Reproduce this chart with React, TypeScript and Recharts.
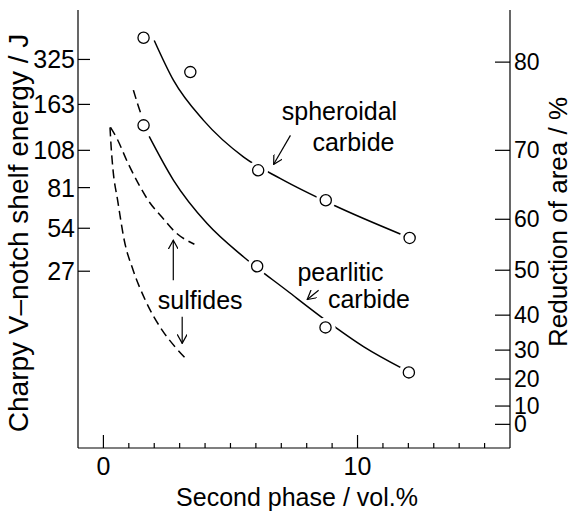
import React from 'react';
import { ComposedChart, Line, Scatter, XAxis, YAxis, ReferenceLine, ReferenceDot } from 'recharts';

const FONT = '"Liberation Sans", Arial, Helvetica, sans-serif';

// x axis (Second phase / vol.%)
const xTicks = [0, 1, 2, 3, 4, 5, 6, 7, 8, 9, 10, 11, 12, 13, 14, 15];
const xMajorTicks = [0, 10];

// y positions are in plot units (0 = bottom of frame, 100 = top of frame)
const leftTickPos = [88.71, 78.45, 67.96, 59.45, 50.17, 40.36];
const leftTickLabels = ['325', '163', '108', '81', '54', '27'];
const rightTickPos = [88.1, 67.96, 52.22, 40.59, 30.33, 22.35, 15.74, 9.58, 5.4];
const rightTickLabels = ['80', '70', '60', '50', '40', '30', '20', '10', '0'];

// measured points
const spheroidalX = [1.58, 3.42, 6.09, 8.75, 12.05];
const spheroidalY = [93.66, 85.82, 63.4, 56.56, 47.96];
const pearliticX = [1.58, 6.05, 8.74, 12.02];
const pearliticY = [73.66, 41.5, 27.53, 17.26];

// fitted curves
const spheroidalFitX = [2.0, 2.76, 3.94, 5.52, 6.97, 9.07, 11.75];
const spheroidalFitY = [93.04, 83.92, 74.8, 66.43, 61.5, 55.42, 48.7];
const pearliticFitX = [1.8, 2.76, 4.08, 5.52, 7.23, 8.74, 10.25, 11.76];
const pearliticFitY = [71.15, 61.12, 51.24, 43.6, 35.9, 29.2, 23.1, 18.18];
const pearliticExtX = [1.18, 1.35, 1.52];
const pearliticExtY = [81.7, 78.5, 75.6];

// sulfides (dashed)
const sulfideAX = [0.28, 0.53, 0.97, 1.37, 1.76, 2.3, 2.82, 3.58];
const sulfideAY = [73.2, 70.69, 64.99, 60.43, 56.56, 52.75, 49.33, 46.52];
const sulfideBX = [0.26, 0.3, 0.38, 0.56, 0.82, 1.17, 1.65, 2.31, 2.83, 3.3];
const sulfideBY = [73.2, 69.1, 63.4, 56.56, 47.43, 40.59, 33.75, 26.91, 23.03, 20.07];

// annotations
const annoText = ['spheroidal', 'carbide', 'pearlitic', 'carbide', 'sulfides'];
const annoX = [9.29, 9.84, 9.33, 10.45, 3.81];
const annoY = [76.92, 69.78, 40.21, 33.98, 33.87];
const arrowFromX = [7.36, 8.47, 2.75, 3.1];
const arrowFromY = [71.38, 36.03, 38.31, 29.94];
const arrowToX = [6.7, 8.02, 2.75, 3.1];
const arrowToY = [64.77, 33.91, 47.43, 23.88];

const zip = (xs: number[], ys: number[]) => xs.map((x, i) => ({ x, y: ys[i] }));

const leftMap = new Map(leftTickPos.map((p, i) => [p, leftTickLabels[i]]));
const rightMap = new Map(rightTickPos.map((p, i) => [p, rightTickLabels[i]]));

const BottomTick = (props: any) => {
  const { x, y, payload } = props;
  const major = xMajorTicks.includes(payload.value);
  return (
    <g>
      <line x1={x} x2={x} y1={y} y2={y - (major ? 13 : 5)} stroke="#000" strokeWidth={1.2} />
      {major && (
        <text x={x} y={y + 18} textAnchor="middle" dominantBaseline="central" fontSize={25} fontFamily={FONT} fill="#000">
          {payload.value}
        </text>
      )}
    </g>
  );
};

const TopTick = (props: any) => {
  const { x, y, payload } = props;
  const major = xMajorTicks.includes(payload.value);
  return <line x1={x} x2={x} y1={y} y2={y + (major ? 11 : 5)} stroke="#000" strokeWidth={1.2} />;
};

const LeftTick = (props: any) => {
  const { x, y, payload } = props;
  return (
    <g>
      <line x1={x} x2={x + 12} y1={y} y2={y} stroke="#000" strokeWidth={1.2} />
      <text x={x - 3} y={y} textAnchor="end" dominantBaseline="central" fontSize={25} fontFamily={FONT} fill="#000">
        {leftMap.get(payload.value)}
      </text>
    </g>
  );
};

const RightTick = (props: any) => {
  const { x, y, payload } = props;
  return (
    <g>
      <line x1={x} x2={x - 15} y1={y} y2={y} stroke="#000" strokeWidth={1.2} />
      <text x={x + 4} y={y} textAnchor="start" dominantBaseline="central" fontSize={23} fontFamily={FONT} fill="#000">
        {rightMap.get(payload.value)}
      </text>
    </g>
  );
};

const Circle = (props: any) => {
  const { cx, cy } = props;
  return (
    <g>
      <circle cx={cx} cy={cy} r={10} fill="#fff" />
      <circle cx={cx} cy={cy} r={5.6} fill="#fff" stroke="#000" strokeWidth={1.3} />
    </g>
  );
};

const LeftLabel = (props: any) => {
  const vb = props.viewBox || { x: 0, y: 10, width: 78, height: 438 };
  const cx = vb.x + 18;
  const cy = vb.y + 223;
  return (
    <text x={cx} y={cy} transform={`rotate(-90 ${cx} ${cy})`} textAnchor="middle" dominantBaseline="central" fontSize={28} fontFamily={FONT} fill="#000">
      Charpy V–notch shelf energy / J
    </text>
  );
};

const RightLabel = (props: any) => {
  const vb = props.viewBox || { x: 510, y: 10, width: 62, height: 438 };
  const cx = vb.x + 48;
  const cy = vb.y + 212;
  return (
    <text x={cx} y={cy} transform={`rotate(-90 ${cx} ${cy})`} textAnchor="middle" dominantBaseline="central" fontSize={26} fontFamily={FONT} fill="#000">
      Reduction of area / %
    </text>
  );
};

const BottomLabel = (props: any) => {
  const vb = props.viewBox || { x: 78, y: 448, width: 432, height: 67 };
  return (
    <text x={vb.x + vb.width / 2 + 3} y={vb.y + 49} textAnchor="middle" dominantBaseline="central" fontSize={25} fontFamily={FONT} fill="#000">
      Second phase / vol.%
    </text>
  );
};

const TextMark = (label: string) => (props: any) => (
  <text x={props.cx} y={props.cy} textAnchor="middle" dominantBaseline="central" fontSize={25} fontFamily={FONT} fill="#000">
    {label}
  </text>
);

const lineProps = {
  xAxisId: 'b',
  yAxisId: 'l',
  dataKey: 'y',
  type: 'monotone' as const,
  stroke: '#000',
  dot: false,
  activeDot: false,
  isAnimationActive: false,
};

export default function App() {
  return (
    <div style={{ position: 'absolute', left: 0, top: 0 }}>
      <svg width={0} height={0} style={{ position: 'absolute' }}>
        <defs>
          <marker id="arrowHead" viewBox="0 0 10 10" refX={9} refY={5} markerWidth={10} markerHeight={10} markerUnits="userSpaceOnUse" orient="auto">
            <path d="M0,0 L9,5 L0,10" fill="none" stroke="#000" strokeWidth={1.2} />
          </marker>
        </defs>
      </svg>
      <ComposedChart width={572} height={515} margin={{ top: 10, right: 0, bottom: 0, left: 0 }} style={{ background: '#fff' }}>
        <XAxis
          xAxisId="b"
          type="number"
          dataKey="x"
          orientation="bottom"
          domain={[-1, 16]}
          ticks={xTicks}
          interval={0}
          height={67}
          tickSize={0}
          tickMargin={0}
          tickLine={false}
          axisLine={{ stroke: '#000', strokeWidth: 1.2 }}
          tick={BottomTick}
          label={{ content: BottomLabel }}
          allowDataOverflow
        />
        <XAxis
          xAxisId="t"
          type="number"
          dataKey="x"
          orientation="top"
          domain={[-1, 16]}
          ticks={xTicks}
          interval={0}
          height={0}
          tickSize={0}
          tickMargin={0}
          tickLine={false}
          axisLine={{ stroke: '#000', strokeWidth: 1.2 }}
          tick={TopTick}
          allowDataOverflow
        />
        <YAxis
          yAxisId="l"
          type="number"
          orientation="left"
          domain={[0, 100]}
          ticks={leftTickPos}
          interval={0}
          width={78}
          tickSize={0}
          tickMargin={0}
          tickLine={false}
          axisLine={{ stroke: '#000', strokeWidth: 1.2 }}
          tick={LeftTick}
          label={{ content: LeftLabel }}
          allowDataOverflow
        />
        <YAxis
          yAxisId="r"
          type="number"
          orientation="right"
          domain={[0, 100]}
          ticks={rightTickPos}
          interval={0}
          width={62}
          tickSize={0}
          tickMargin={0}
          tickLine={false}
          axisLine={{ stroke: '#000', strokeWidth: 1.2 }}
          tick={RightTick}
          label={{ content: RightLabel }}
          allowDataOverflow
        />

        <Line {...lineProps} data={zip(spheroidalFitX, spheroidalFitY)} strokeWidth={1.5} />
        <Line {...lineProps} data={zip(pearliticFitX, pearliticFitY)} strokeWidth={1.5} />
        <Line {...lineProps} data={zip(pearliticExtX, pearliticExtY)} strokeWidth={1.5} strokeDasharray="9 5" />
        <Line {...lineProps} data={zip(sulfideAX, sulfideAY)} strokeWidth={1.5} strokeDasharray="9 5" />
        <Line {...lineProps} data={zip(sulfideBX, sulfideBY)} strokeWidth={1.5} strokeDasharray="9 5" />

        <Scatter xAxisId="b" yAxisId="l" data={zip(spheroidalX, spheroidalY)} dataKey="y" shape={Circle} isAnimationActive={false} />
        <Scatter xAxisId="b" yAxisId="l" data={zip(pearliticX, pearliticY)} dataKey="y" shape={Circle} isAnimationActive={false} />

        {arrowFromX.map((fx, i) => (
          <ReferenceLine
            key={`arr${i}`}
            xAxisId="b"
            yAxisId="l"
            segment={[
              { x: fx, y: arrowFromY[i] },
              { x: arrowToX[i], y: arrowToY[i] },
            ]}
            stroke="#000"
            strokeWidth={1.2}
            markerEnd="url(#arrowHead)"
            ifOverflow="visible"
          />
        ))}
        {annoText.map((t, i) => (
          <ReferenceDot key={`t${i}`} xAxisId="b" yAxisId="l" x={annoX[i]} y={annoY[i]} r={0} shape={TextMark(t)} ifOverflow="visible" />
        ))}
      </ComposedChart>
    </div>
  );
}
